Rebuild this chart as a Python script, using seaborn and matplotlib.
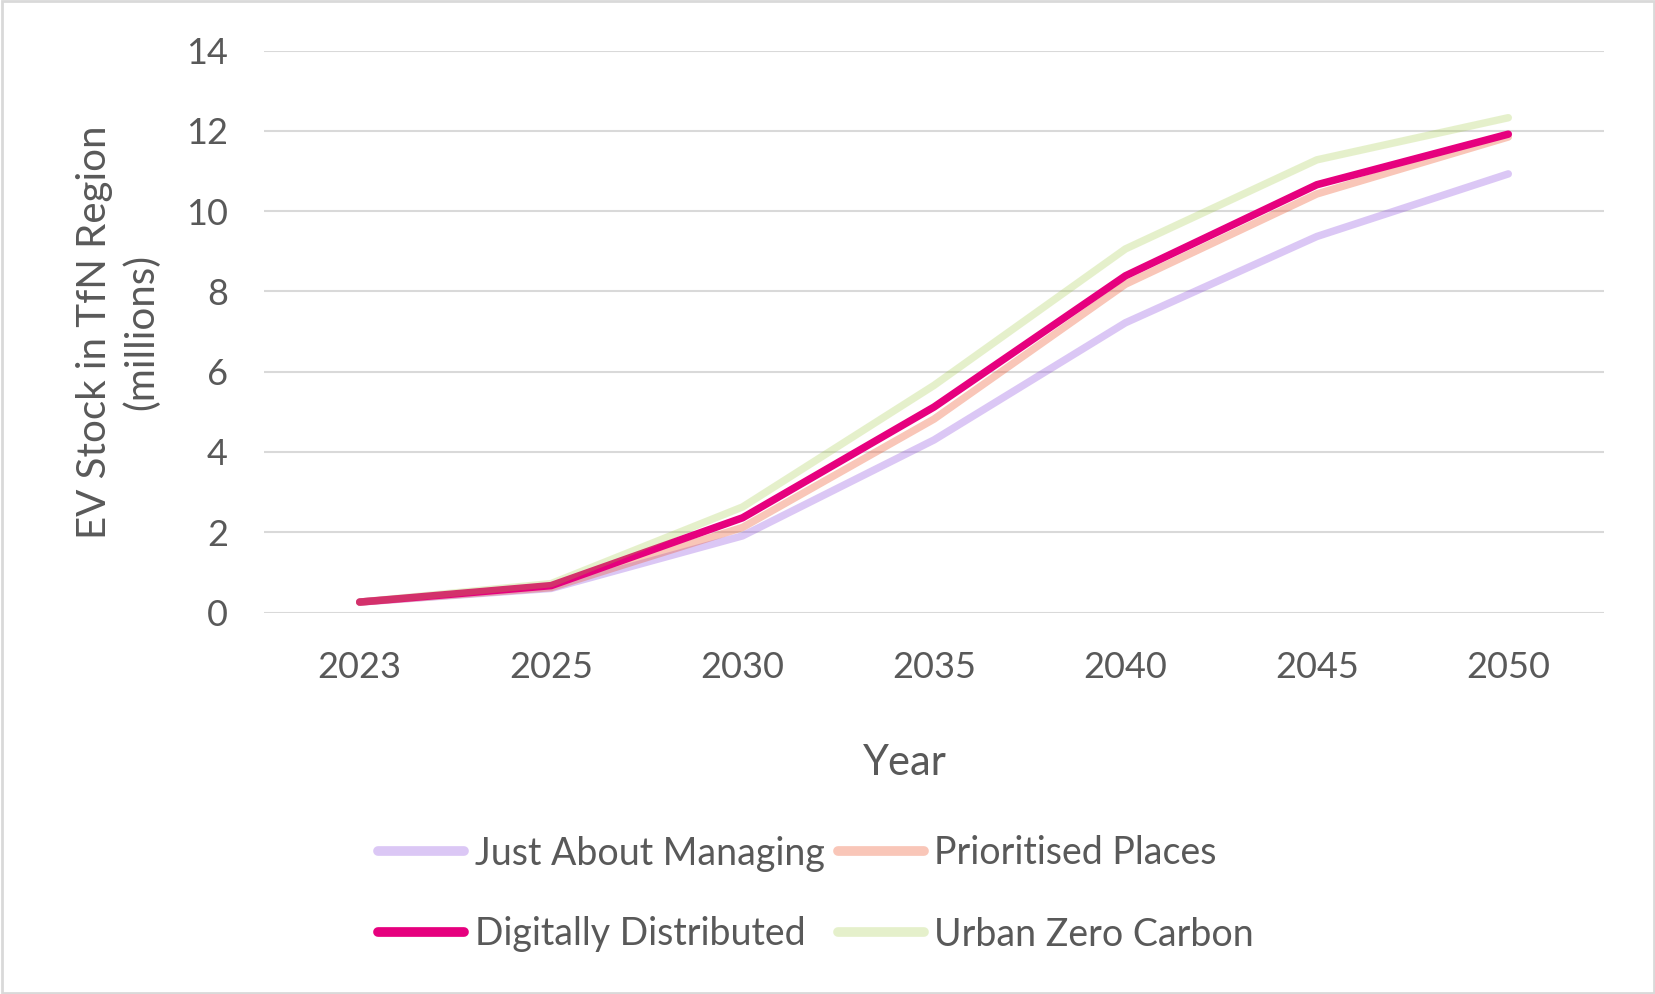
import matplotlib

matplotlib.use("Agg")
import matplotlib.pyplot as plt
import pandas as pd
import seaborn as sns
from matplotlib.lines import Line2D
from matplotlib.patches import Rectangle

# data (millions of EVs)
years = ["2023", "2025", "2030", "2035", "2040", "2045", "2050"]
just_about_managing = [0.26, 0.60, 1.91, 4.30, 7.22, 9.37, 10.93]
prioritised_places = [0.26, 0.62, 2.12, 4.82, 8.18, 10.43, 11.85]
digitally_distributed = [0.26, 0.67, 2.36, 5.12, 8.39, 10.66, 11.92]
urban_zero_carbon = [0.26, 0.72, 2.63, 5.66, 9.06, 11.28, 12.33]

series_names = ["Just About Managing", "Prioritised Places",
                "Digitally Distributed", "Urban Zero Carbon"]
series_values = [just_about_managing, prioritised_places,
                 digitally_distributed, urban_zero_carbon]
# base colour, alpha (lines are semi-transparent like the Excel original)
styles = {
    "Just About Managing": ("#8a48de", 0.30),
    "Prioritised Places": ("#ee5c34", 0.35),
    "Digitally Distributed": ("#e6007e", 1.0),
    "Urban Zero Carbon": ("#9bc733", 0.25),
}

TEXT = "#595959"
GRID = "#d9d9d9"

df = pd.concat(
    [pd.DataFrame({"Year": years, "EV": vals, "Scenario": name})
     for name, vals in zip(series_names, series_values)],
    ignore_index=True,
)

sns.set_style("white")
plt.rcParams["font.family"] = ["Lato", "DejaVu Sans"]

fig = plt.figure(figsize=(16.56, 9.94), dpi=100)
ax = fig.add_axes([264 / 1656, 1 - 612.5 / 994, 1340 / 1656, 561.8 / 994])

for name in series_names:
    color, alpha = styles[name]
    sub = df[df["Scenario"] == name]
    sns.lineplot(data=sub, x="Year", y="EV", color=color, alpha=alpha,
                 linewidth=5.4, sort=False, ax=ax, legend=False,
                 solid_capstyle="round", solid_joinstyle="round")

ax.set_ylim(0, 14)
ax.set_yticks(range(0, 15, 2))
ax.set_xlim(-0.5, len(years) - 0.5)
ax.yaxis.grid(True, color=GRID, linewidth=1.5)
ax.xaxis.grid(False)
ax.set_axisbelow(True)
for s in ax.spines.values():
    s.set_visible(False)
ax.tick_params(axis="y", length=0, pad=26, labelsize=26, labelcolor=TEXT)
ax.tick_params(axis="x", length=0, pad=28, labelsize=26, labelcolor=TEXT)
ax.set_xlabel("")
ax.set_ylabel("")

fig.text(905 / 1656, 1 - 763 / 994, "Year", ha="center", va="center",
         fontsize=30, color=TEXT)
fig.text(118 / 1656, 1 - 332 / 994, "EV Stock in TfN Region\n(millions)",
         rotation=90, ha="center", va="center", multialignment="center",
         fontsize=29, color=TEXT, linespacing=1.3)

# legend laid out row-wise like the original (matplotlib fills by column)
legend_order = ["Just About Managing", "Digitally Distributed",
                "Prioritised Places", "Urban Zero Carbon"]
handles = []
for name in legend_order:
    color, alpha = styles[name]
    handles.append(Line2D([0], [0], color=color, alpha=alpha, linewidth=7,
                          solid_capstyle="round"))
fig.legend(handles, legend_order, loc="center", ncol=2,
           bbox_to_anchor=(816 / 1656, 100 / 994), frameon=False,
           fontsize=27, labelcolor=TEXT, handlelength=2.3,
           handletextpad=0.27, columnspacing=0.35, labelspacing=1.2,
           borderpad=0)

fig.patches.append(Rectangle((0.001, 0.001), 0.998, 0.998,
                             transform=fig.transFigure, fill=False,
                             edgecolor=GRID, linewidth=2))

fig.savefig("out.png", dpi=100)
